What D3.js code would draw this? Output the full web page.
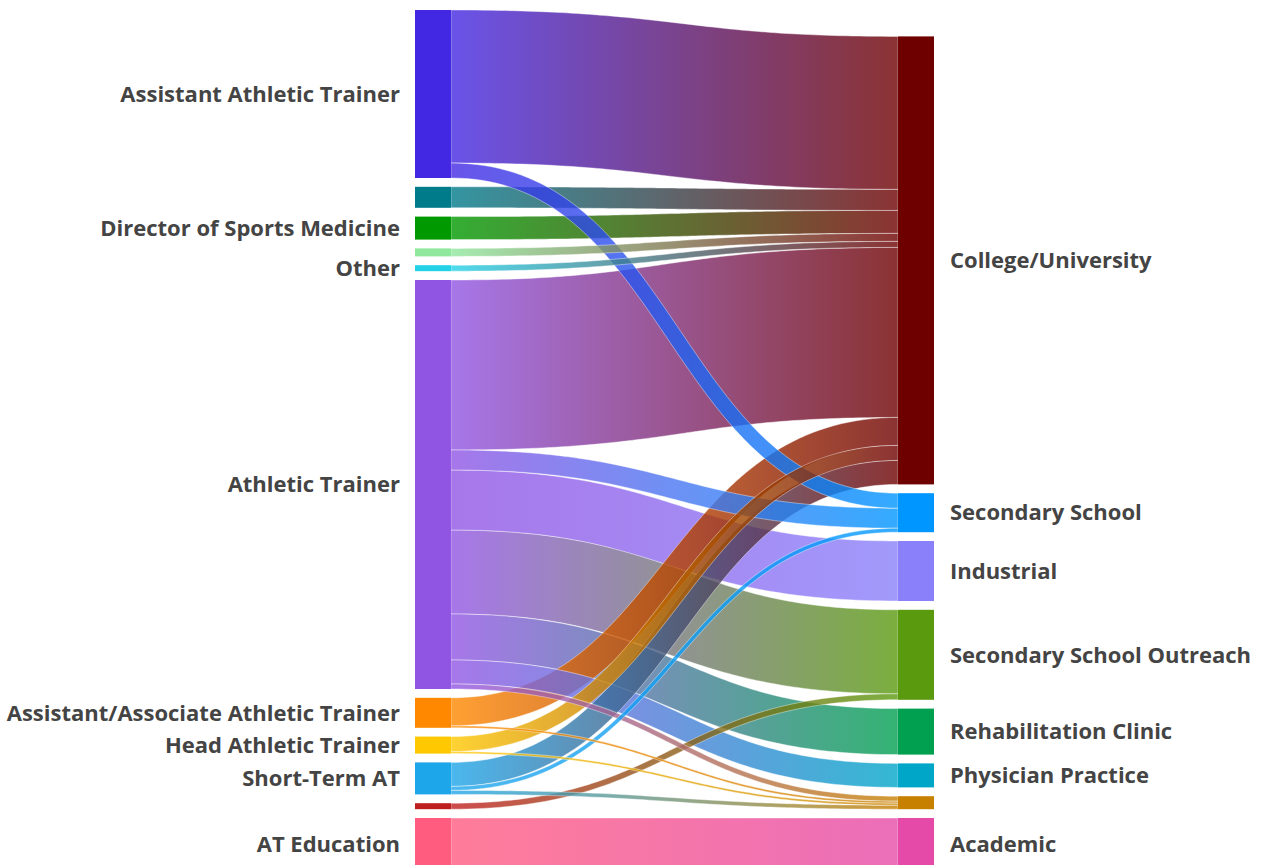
<!DOCTYPE html>
<html>
<head>
<meta charset="utf-8">
<script src="https://cdn.jsdelivr.net/npm/d3@7"></script>
<style>
  html, body { margin: 0; padding: 0; background: #fff; overflow: hidden; }
  svg { display: block; }
  .label { font-family: "Source Sans Pro", "Open Sans", sans-serif; font-weight: 700; font-size: 22px; fill: #444; }
</style>
</head>
<body>
<svg id="chart"></svg>
<script>
// left column (roles) and right column (settings), top to bottom
var sources = ["Assistant Athletic Trainer", "", "Director of Sports Medicine", "", "Other",
    "Athletic Trainer", "Assistant/Associate Athletic Trainer", "Head Athletic Trainer",
    "Short-Term AT", "", "AT Education"];
var sourceColors = ["#4328e3", "#007b8a", "#009a00", "#8fe89c", "#24d2e8", "#9155e4",
    "#ff8800", "#ffc800", "#1ea6ea", "#c01f1f", "#ff5c80"];

var targets = ["College/University", "Secondary School", "Industrial", "Secondary School Outreach",
    "Rehabilitation Clinic", "Physician Practice", "", "Academic"];
var targetColors = ["#6e0000", "#0096ff", "#8a80fa", "#5a9a0e", "#00a050", "#00a6c8", "#c88000", "#e64aa8"];

// [source index, target index, value]
var flows = [
    [0, 0, 153], [0, 1, 15],
    [1, 0, 21],
    [2, 0, 23],
    [3, 0, 8],
    [4, 0, 6],
    [5, 0, 170], [5, 1, 20], [5, 2, 60], [5, 3, 84], [5, 4, 46], [5, 5, 24], [5, 6, 5],
    [6, 0, 28], [6, 6, 2],
    [7, 0, 15], [7, 6, 2],
    [8, 0, 24], [8, 1, 4], [8, 6, 4],
    [9, 3, 6],
    [10, 7, 52]
];

var chartW = 1266, chartH = 865;
var nodeWidth = 36, pad = 8.8, topY = 10, bottomY = 870;

var svg = d3.select("#chart").attr("width", chartW).attr("height", chartH);
var defs = svg.append("defs");

var col = d3.scaleLinear().domain([0, 1]).range([415, 898]);
var total = d3.sum(flows, (d) => d[2]);
var ky = d3.scaleLinear().domain([0, total]).range([0, bottomY - topY - pad * (sources.length - 1)]);

// columns are stacked up from the same bottom line
function stackColumn(names, colors, side) {
    var values = names.map((n, i) => d3.sum(flows.filter((f) => f[side] === i), (f) => f[2]));
    var y = bottomY - (ky(d3.sum(values)) + pad * (names.length - 1));
    return names.map(function(name, i) {
        var node = {name: name, color: colors[i], value: values[i], x0: col(side), y0: y, y1: y + ky(values[i])};
        y = node.y1 + pad;
        return node;
    });
}

var leftNodes = stackColumn(sources, sourceColors, 0);
var rightNodes = stackColumn(targets, targetColors, 1);

var links = flows.map((f, i) => ({id: i, s: f[0], t: f[1], value: f[2]}));

leftNodes.forEach(function(n, i) {
    var y = n.y0;
    links.filter((l) => l.s === i).sort((a, b) => a.t - b.t).forEach(function(l) {
        l.sy0 = y; y += ky(l.value); l.sy1 = y;
    });
});
rightNodes.forEach(function(n, i) {
    var y = n.y0;
    links.filter((l) => l.t === i).sort((a, b) => a.s - b.s).forEach(function(l) {
        l.ty0 = y; y += ky(l.value); l.ty1 = y;
    });
});

// ribbon with constant thickness along a horizontal bezier
function ribbon(l) {
    var x0 = col(0) + nodeWidth, x3 = col(1), xm = (x0 + x3) / 2;
    var ya = (l.sy0 + l.sy1) / 2, yb = (l.ty0 + l.ty1) / 2, w = ky(l.value) / 2;
    var upper = [], lower = [];
    for (var j = 0; j <= 80; j++) {
        var t = j / 80, u = 1 - t;
        var px = u * u * u * x0 + 3 * u * u * t * xm + 3 * u * t * t * xm + t * t * t * x3;
        var py = u * u * u * ya + 3 * u * u * t * ya + 3 * u * t * t * yb + t * t * t * yb;
        var dx = 3 * u * u * (xm - x0) + 3 * t * t * (x3 - xm);
        var dy = 6 * u * t * (yb - ya);
        var len = Math.hypot(dx, dy), nx = -dy / len, ny = dx / len;
        upper.push([px - nx * w, py - ny * w]);
        lower.push([px + nx * w, py + ny * w]);
    }
    return d3.line()(upper.concat(lower.reverse())) + "Z";
}

links.forEach(function(l) {
    var g = defs.append("linearGradient")
        .attr("id", "grad" + l.id)
        .attr("gradientUnits", "userSpaceOnUse")
        .attr("x1", col(0) + nodeWidth).attr("x2", col(1))
        .attr("y1", 0).attr("y2", 0);
    g.append("stop").attr("offset", "0%").attr("stop-color", sourceColors[l.s]);
    g.append("stop").attr("offset", "100%").attr("stop-color", targetColors[l.t]);
});

// big flows underneath, small ones on top
svg.append("g")
    .selectAll("path")
    .data(links.slice().sort((a, b) => b.value - a.value))
    .enter()
    .append("path")
    .attr("d", ribbon)
    .style("fill", (d) => "url(#grad" + d.id + ")")
    .style("fill-opacity", 0.8)
    .style("stroke", "#fff")
    .style("stroke-opacity", 0.4)
    .style("stroke-width", 1);

var allNodes = leftNodes.concat(rightNodes);

svg.append("g")
    .selectAll("rect")
    .data(allNodes)
    .enter()
    .append("rect")
    .attr("x", (d) => d.x0)
    .attr("y", (d) => d.y0)
    .attr("width", nodeWidth)
    .attr("height", (d) => d.y1 - d.y0)
    .style("fill", (d) => d.color);

svg.append("g")
    .selectAll("text")
    .data(leftNodes.filter((d) => d.name))
    .enter()
    .append("text")
    .attr("class", "label")
    .attr("x", (d) => d.x0 - 15)
    .attr("y", (d) => (d.y0 + d.y1) / 2)
    .attr("dy", "0.35em")
    .attr("text-anchor", "end")
    .text((d) => d.name);

svg.append("g")
    .selectAll("text")
    .data(rightNodes.filter((d) => d.name))
    .enter()
    .append("text")
    .attr("class", "label")
    .attr("x", (d) => d.x0 + nodeWidth + 16)
    .attr("y", (d) => (d.y0 + d.y1) / 2)
    .attr("dy", "0.35em")
    .attr("text-anchor", "start")
    .text((d) => d.name);
</script>
</body>
</html>
